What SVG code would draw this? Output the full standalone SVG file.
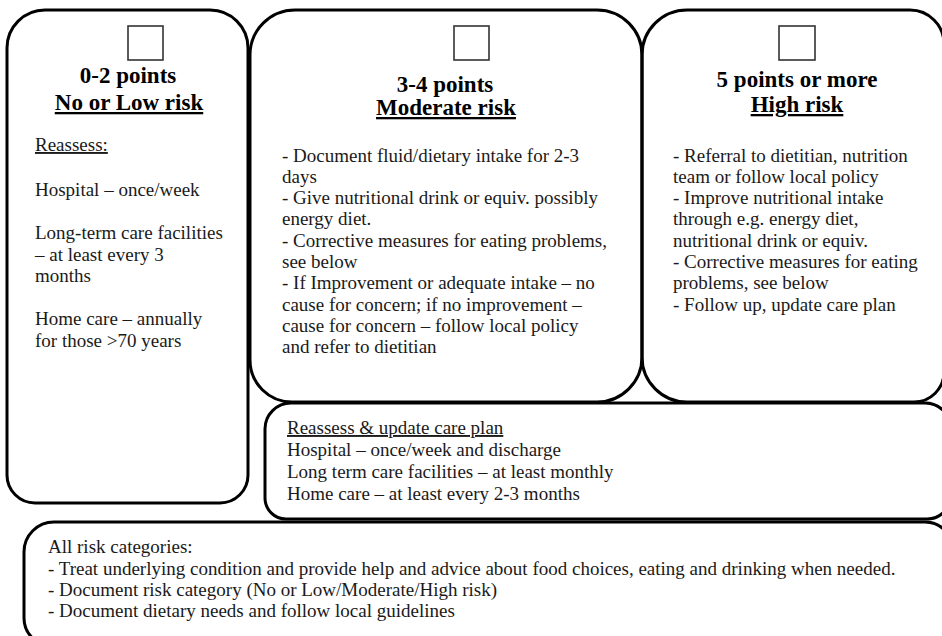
<svg xmlns="http://www.w3.org/2000/svg" width="942" height="636" viewBox="0 0 942 636">
<style>
.box{fill:none;stroke:#000;stroke-width:3}
.chk{fill:#fff;stroke:#333;stroke-width:1.6}
.h{font-family:"Liberation Serif","Times New Roman",serif;font-weight:bold;font-size:23px;fill:#000;text-anchor:middle}
.t{font-family:"Liberation Serif","Times New Roman",serif;font-size:19px;fill:#1a1a1a}
.u{text-decoration:underline}
</style>
<rect width="942" height="636" fill="#fff"/>
<g id="node-low">
<path class="box" d="M45,10 H210 A38,38 0 0 1 248,48 V475 A28,28 0 0 1 220,503 H35 A28,28 0 0 1 7,475 V48 A38,38 0 0 1 45,10 Z"/>
<rect class="chk" x="128" y="26" width="35" height="34"/>
<text class="h" x="128" y="83">0-2 points</text>
<text class="h u" x="129" y="110">No or Low risk</text>
<text class="t u" x="35" y="151">Reassess:</text>
<text class="t" x="35" y="196">Hospital – once/week</text>
<text class="t" x="35" y="239">Long-term care facilities</text>
<text class="t" x="35" y="261">– at least every 3</text>
<text class="t" x="35" y="282">months</text>
<text class="t" x="35" y="325">Home care – annually</text>
<text class="t" x="35" y="347">for those &gt;70 years</text>
</g>
<g id="node-moderate">
<path class="box" d="M295,10 H597 A45,45 0 0 1 642,55 V357 A45,45 0 0 1 597,402 H292 A42,42 0 0 1 250,360 V55 A45,45 0 0 1 295,10 Z"/>
<rect class="chk" x="454" y="26" width="35" height="34"/>
<text class="h" x="445" y="92">3-4 points</text>
<text class="h u" x="446" y="115">Moderate risk</text>
<text class="t" x="282" y="161.5">- Document fluid/dietary intake for 2-3</text>
<text class="t" x="282" y="182.8">days</text>
<text class="t" x="282" y="204">- Give nutritional drink or equiv. possibly</text>
<text class="t" x="282" y="225.4">energy diet.</text>
<text class="t" x="282" y="246.7">- Corrective measures for eating problems,</text>
<text class="t" x="282" y="268">see below</text>
<text class="t" x="282" y="289.3">- If Improvement or adequate intake – no</text>
<text class="t" x="282" y="310.6">cause for concern; if no improvement –</text>
<text class="t" x="282" y="332">cause for concern – follow local policy</text>
<text class="t" x="282" y="353.2">and refer to dietitian</text>
</g>
<g id="node-high">
<path class="box" d="M687,10 H910 A34,34 0 0 1 944,44 V372 A30,30 0 0 1 914,402 H687 A45,45 0 0 1 642,357 V55 A45,45 0 0 1 687,10 Z"/>
<rect class="chk" x="779" y="26" width="36" height="34"/>
<text class="h" x="797" y="87">5 points or more</text>
<text class="h u" x="797" y="112">High risk</text>
<text class="t" x="673" y="161.5">- Referral to dietitian, nutrition</text>
<text class="t" x="673" y="182.8">team or follow local policy</text>
<text class="t" x="673" y="204">- Improve nutritional intake</text>
<text class="t" x="673" y="225.4">through e.g. energy diet,</text>
<text class="t" x="673" y="246.7">nutritional drink or equiv.</text>
<text class="t" x="673" y="268">- Corrective measures for eating</text>
<text class="t" x="673" y="289.3">problems, see below</text>
<text class="t" x="673" y="310.6">- Follow up, update care plan</text>
</g>
<g id="node-reassess">
<path class="box" d="M291,403 H925 A26,26 0 0 1 951,429 V495 A24,24 0 0 1 927,519 H286 A21,21 0 0 1 265,498 V429 A26,26 0 0 1 291,403 Z"/>
<text class="t u" x="287" y="434">Reassess &amp; update care plan</text>
<text class="t" x="287" y="456">Hospital – once/week and discharge</text>
<text class="t" x="287" y="478">Long term care facilities – at least monthly</text>
<text class="t" x="287" y="500">Home care – at least every 2-3 months</text>
</g>
<g id="node-all">
<path class="box" d="M54,522 H925 A28,28 0 0 1 953,550 V618 A28,28 0 0 1 925,646 H52 A28,28 0 0 1 24,618 V552 A30,30 0 0 1 54,522 Z"/>
<text class="t" x="48" y="553">All risk categories:</text>
<text class="t" x="48" y="574.5">- Treat underlying condition and provide help and advice about food choices, eating and drinking when needed.</text>
<text class="t" x="48" y="596">- Document risk category (No or Low/Moderate/High risk)</text>
<text class="t" x="48" y="617">- Document dietary needs and follow local guidelines</text>
</g>
<g id="connectors"></g>
</svg>
